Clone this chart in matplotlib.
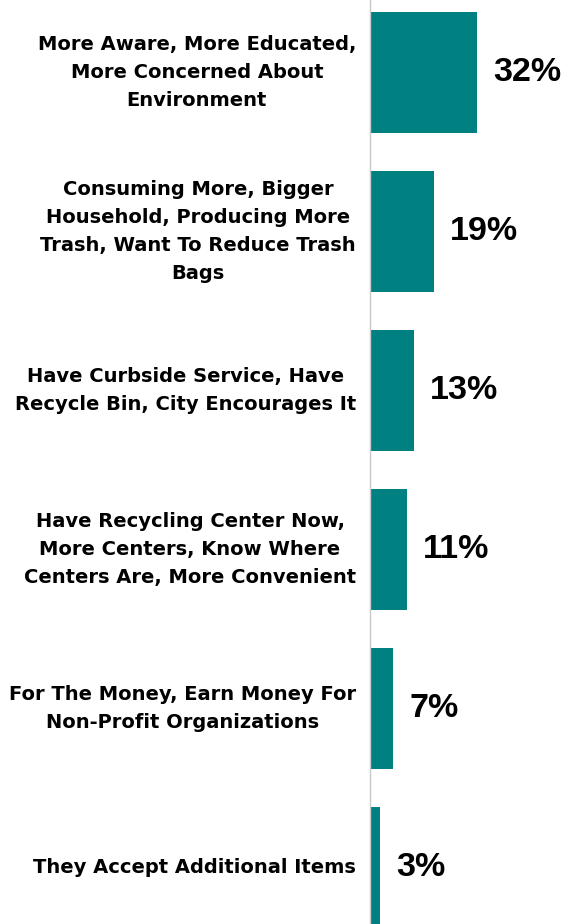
import matplotlib
matplotlib.use("Agg")
import matplotlib.pyplot as plt

categories = [
    "More Aware, More Educated,\nMore Concerned About\nEnvironment",
    "Consuming More, Bigger\nHousehold, Producing More\nTrash, Want To Reduce Trash\nBags",
    "Have Curbside Service, Have\nRecycle Bin, City Encourages It",
    "Have Recycling Center Now,\nMore Centers, Know Where\nCenters Are, More Convenient",
    "For The Money, Earn Money For\nNon-Profit Organizations",
    "They Accept Additional Items",
]
values = [32, 19, 13, 11, 7, 3]
value_labels = ["32%", "19%", "13%", "11%", "7%", "3%"]

W, H = 566, 924
fig = plt.figure(figsize=(W / 100, H / 100), dpi=100)
ax = fig.add_axes([370 / W, 0, 196 / W, 1])

pos = list(range(len(values)))
ax.barh(pos, values, height=0.765, color="#008080", edgecolor="none")
ax.set_xlim(0, 58.5)
ax.set_ylim(5.355, -0.456)

for y, v, lab in zip(pos, values, value_labels):
    ax.annotate(lab, xy=(v, y), xytext=(11.5, 0), textcoords="offset points",
                ha="left", va="center", fontsize=24.5, fontweight="bold",
                family="Liberation Sans", color="black")

ax.set_yticks(pos)
ax.set_yticklabels(categories, fontsize=14, fontweight="bold",
                   family="DejaVu Sans", ha="right", va="center",
                   multialignment="center", linespacing=1.6)
ax.tick_params(axis="y", length=0, pad=10)
ax.set_xticks([])
for s in ["top", "right", "bottom"]:
    ax.spines[s].set_visible(False)
ax.spines["left"].set_color("#c8c8c8")
ax.spines["left"].set_linewidth(1)

fig.savefig("out.png", dpi=100)
